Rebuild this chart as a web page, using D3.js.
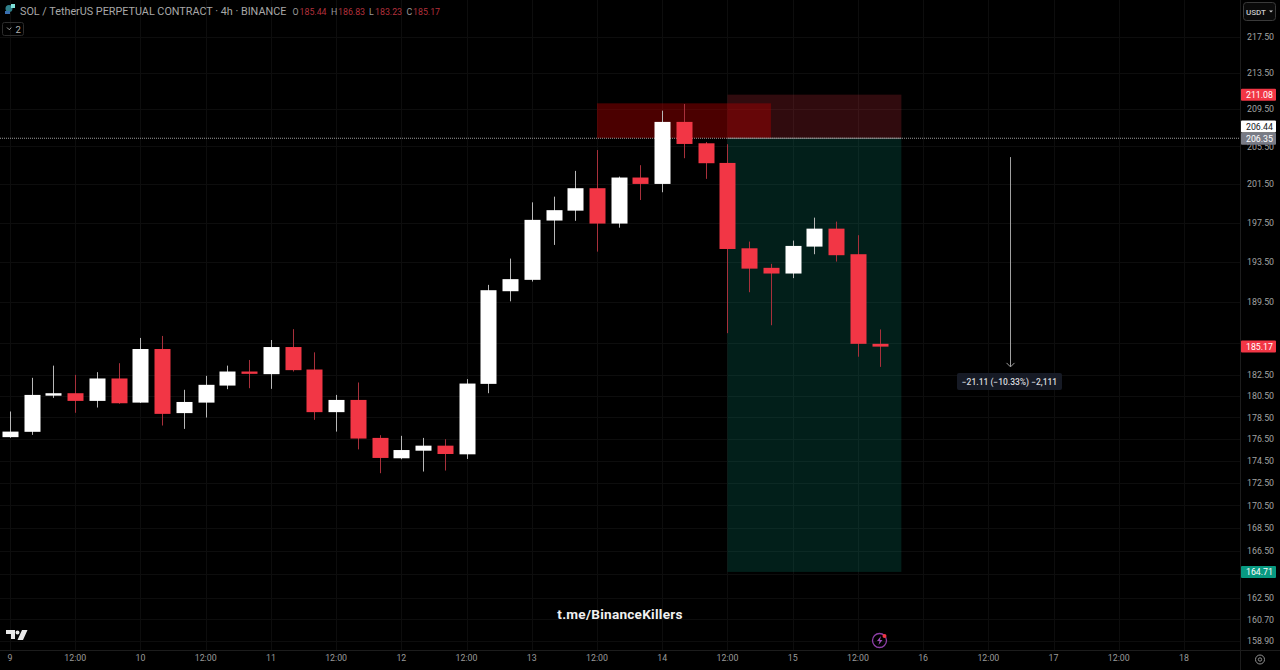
<!DOCTYPE html>
<html><head><meta charset="utf-8">
<script src="https://cdn.jsdelivr.net/npm/d3@7"></script>
<style>
html,body{margin:0;padding:0;background:#000;overflow:hidden}
svg{display:block}
text{font-family:Roboto,"Liberation Sans",sans-serif}
</style></head><body>
<svg id="c" width="1280" height="670"></svg>
<script>
const opens  =[176.66,177.15,180.51,180.74,180.02,182.13,179.86,184.94,178.88,179.86,181.46,182.79,182.54,185.13,182.98,178.97,180.11,176.59,174.73,175.42,175.88,175.09,181.62,190.58,191.71,197.71,198.73,201.06,197.40,202.18,201.51,208.11,205.81,203.72,194.88,192.91,192.34,195.05,196.88,194.28,185.44];
const highs  =[179.03,182.19,183.35,182.47,182.73,183.58,186.01,186.20,181.06,182.38,183.35,183.89,185.81,186.86,184.62,180.58,181.75,176.84,176.78,176.59,176.47,182.07,191.21,193.84,199.59,200.18,202.88,205.09,202.28,203.48,209.33,210.06,205.95,205.71,195.56,193.31,195.66,198.01,197.60,196.21,186.83];
const lows   =[176.60,176.87,180.30,178.91,179.40,179.75,179.83,177.73,177.42,178.47,181.12,181.21,181.15,182.79,178.26,177.17,175.54,173.38,174.64,173.53,173.62,174.67,180.74,189.58,191.54,195.22,197.68,194.54,196.98,199.83,200.64,204.22,202.04,186.47,190.48,187.24,191.88,194.28,193.54,184.20,183.23];
const closes =[177.17,180.58,180.74,180.02,182.13,179.80,184.94,178.81,179.92,181.53,182.79,182.57,185.13,182.92,178.97,180.11,176.53,174.76,175.48,175.88,175.12,181.65,190.68,191.78,197.78,198.78,201.06,197.40,202.18,201.51,208.11,205.74,203.69,194.81,192.83,192.34,195.12,196.88,194.18,185.44,185.17];
const priceTicks=[217.5,213.5,209.5,205.5,201.5,197.5,193.5,189.5,182.5,180.5,178.5,176.5,174.5,172.5,170.5,168.5,166.5,162.5,160.7,158.9];
const gridOnlyPrices=[185.5,164.5];
const timeIdx=[0,3,6,9,12,15,18,21,24,27,30,33,36,39,42,45,48,51,54];
const timeLabels=["9","12:00","10","12:00","11","12:00","12","12:00","13","12:00","14","12:00","15","12:00","16","12:00","17","12:00","18"];
const zoneBar=[27,35], zonePrice=[206.35,210.13];
const posBar=[33,41], entry=206.35, stop=211.08, target=164.71, preLine=206.35;
const measureBar=46, measurePrice=[204.34,183.23];
const priceLabels=[[211.08,"#f23645","#fff",0],[206.44,"#ffffff","#131722",-11],[206.35,"#787b86","#fff",0.5],[185.17,"#f23645","#fff",0],[164.71,"#089981","#fff",0]];

const W=1280,H=670,axisX=1240,axisY=650;
const svg=d3.select("#c");
const x=d3.scaleLinear().domain([0,54]).range([10,1184]);
const y=d3.scaleLog().domain([158.9,217.5]).range([641,37]);
svg.append("rect").attr("width",W).attr("height",H).attr("fill","#000");

const grid=svg.append("g").attr("stroke","#0d0d0d").attr("stroke-width",1);
grid.selectAll(".gx").data(timeIdx).join("line").attr("class","gx").attr("x1",d=>Math.round(x(d))+.5).attr("x2",d=>Math.round(x(d))+.5).attr("y1",0).attr("y2",axisY);
grid.selectAll(".gy").data(priceTicks.concat(gridOnlyPrices)).join("line").attr("class","gy").attr("y1",d=>Math.round(y(d))+.5).attr("y2",d=>Math.round(y(d))+.5).attr("x1",0).attr("x2",axisX);

// position and zone drawings
svg.append("rect").attr("x",x(posBar[0])).attr("width",x(posBar[1])-x(posBar[0])).attr("y",y(stop)).attr("height",y(entry)-y(stop)).attr("fill","#f23645").attr("fill-opacity",.2);
svg.append("rect").attr("x",x(posBar[0])).attr("width",x(posBar[1])-x(posBar[0])).attr("y",y(entry)).attr("height",y(target)-y(entry)).attr("fill","#089981").attr("fill-opacity",.2);
svg.append("rect").attr("x",x(zoneBar[0])).attr("width",x(zoneBar[1])-x(zoneBar[0])).attr("y",y(zonePrice[1])).attr("height",y(zonePrice[0])-y(zonePrice[1])).attr("fill","#b30000").attr("fill-opacity",.42);

svg.append("line").attr("x1",0).attr("x2",axisX).attr("y1",y(preLine)).attr("y2",y(preLine)).attr("stroke","#9a9a9a").attr("stroke-width",1).attr("stroke-dasharray","1 1");
svg.append("line").attr("x1",x(posBar[0])).attr("x2",x(posBar[1])).attr("y1",y(entry)).attr("y2",y(entry)).attr("stroke","#8a8a8a").attr("stroke-width",1);

// candles
const idx=d3.range(opens.length);
const col=i=>closes[i]>=opens[i]?"#ffffff":"#f23645";
const wick=i=>closes[i]>=opens[i]?"#b8b8b8":"#a8303b";
const bw=16;
svg.append("g").selectAll("line").data(idx).join("line")
 .attr("x1",i=>Math.round(x(i))+.5).attr("x2",i=>Math.round(x(i))+.5)
 .attr("y1",i=>y(highs[i])).attr("y2",i=>y(lows[i])).attr("stroke",wick).attr("stroke-width",1);
svg.append("g").selectAll("rect").data(idx).join("rect")
 .attr("x",i=>Math.round(x(i))+.5-bw/2).attr("width",bw)
 .attr("y",i=>y(Math.max(opens[i],closes[i])))
 .attr("height",i=>Math.max(1.5,Math.abs(y(opens[i])-y(closes[i]))))
 .attr("fill",col);

// measure arrow
const mx=Math.round(x(measureBar))+.5;
svg.append("line").attr("x1",mx).attr("x2",mx).attr("y1",y(measurePrice[0])).attr("y2",y(measurePrice[1])).attr("stroke","#a0a0a0");
svg.append("path").attr("d",`M${mx-4},${y(measurePrice[1])-4}L${mx},${y(measurePrice[1])}L${mx+4},${y(measurePrice[1])-4}`).attr("fill","none").attr("stroke","#a0a0a0");
svg.append("rect").attr("x",957).attr("y",373).attr("width",105).attr("height",17).attr("rx",2).attr("fill","#161a25");
svg.append("text").attr("x",1009.5).attr("y",385).attr("text-anchor","middle").attr("font-size",8.5).attr("font-weight",500).attr("fill","#d6d8de").text("\u221221.11 (\u221210.33%) \u22122,111");

// axes
svg.append("line").attr("x1",axisX+.5).attr("x2",axisX+.5).attr("y1",0).attr("y2",H).attr("stroke","#1c1c1c");
svg.append("line").attr("x1",0).attr("x2",W).attr("y1",axisY+.5).attr("y2",axisY+.5).attr("stroke","#1c1c1c");
const yAxis=d3.axisRight(y).tickValues(priceTicks).tickSize(0).tickPadding(0).tickFormat(d3.format(".2f"));
const ya=svg.append("g").attr("transform",`translate(1247,0)`).call(yAxis);
ya.select(".domain").remove();
ya.selectAll("text").attr("font-size",8.8).attr("fill","#a3a3a3").attr("font-family","Roboto,sans-serif");
const xAxis=d3.axisBottom(x).tickValues(timeIdx).tickSize(0).tickPadding(0).tickFormat((d,i)=>timeLabels[i]);
const xa=svg.append("g").attr("transform",`translate(-0.5,654.5)`).call(xAxis);
xa.select(".domain").remove();
xa.selectAll("text").attr("font-size",8.8).attr("fill","#9a9a9a").attr("font-family","Roboto,sans-serif");

// price labels
const pl=svg.append("g").selectAll("g").data(priceLabels).join("g").attr("transform",d=>`translate(1241,${y(d[0])+d[3]})`);
pl.append("rect").attr("x",0).attr("y",-6).attr("width",35).attr("height",12).attr("rx",1).attr("fill",d=>d[1]);
pl.append("text").attr("x",18.5).attr("y",3.2).attr("text-anchor","middle").attr("font-size",8.8).attr("fill",d=>d[2]).text(d=>d[0].toFixed(2));

// USDT button
svg.append("rect").attr("x",1243.5).attr("y",2.5).attr("width",32).attr("height",18).attr("rx",3).attr("fill","#0a0a0a").attr("stroke","#3a3a3a");
svg.append("text").attr("x",1246).attr("y",14.5).attr("font-size",8).attr("font-weight",500).attr("fill","#c8c8c8").text("USDT");
svg.append("path").attr("d","M1269,10.5h4l-2,2z").attr("fill","#c8c8c8");

// header
svg.append("circle").attr("cx",9).attr("cy",8.5).attr("r",3.5).attr("fill","#2f7f8a");
svg.append("rect").attr("x",5).attr("y",11).attr("width",5).attr("height",3).attr("fill","#3a6fb0");
svg.append("rect").attr("x",11).attr("y",4).attr("width",4).attr("height",4).attr("fill","#7fe0d8");
svg.append("text").attr("x",20).attr("y",15).attr("font-size",10.8).attr("fill","#a8a8a8").text("SOL / TetherUS PERPETUAL CONTRACT \u00b7 4h \u00b7 BINANCE");
const ohlc=[["O",292.5,"185.44",299.5],["H",331,"186.83",338],["L",369,"183.23",375],["C",406.5,"185.17",413]];
ohlc.forEach(o=>{
 svg.append("text").attr("x",o[1]).attr("y",14.5).attr("font-size",8.8).attr("fill","#9a9a9a").text(o[0]);
 svg.append("text").attr("x",o[3]).attr("y",14.5).attr("font-size",8.8).attr("fill","#b3303c").text(o[2]);
});
svg.append("rect").attr("x",2.5).attr("y",22.5).attr("width",21).attr("height",13).attr("rx",2).attr("fill","none").attr("stroke","#2c2c2c");
svg.append("path").attr("d","M7,27.5l2.2,2.2l2.2,-2.2").attr("fill","none").attr("stroke","#a0a0a0");
svg.append("text").attr("x",15.5).attr("y",32.5).attr("font-size",9.5).attr("fill","#b0b0b0").text("2");

// watermark
svg.append("text").attr("x",620).attr("y",618.5).attr("text-anchor","middle").attr("font-size",13.6).attr("font-weight",700).attr("fill","#f0f0f0").attr("letter-spacing",.25).text("t.me/BinanceKillers");

// logo
svg.append("path").attr("d","M6,630h9v9h-4v-5h-5zM22,630h5.5l-4.5,10h-5.5zM15.5,632.5a2,2 0 1 0 4,0a2,2 0 1 0 -4,0").attr("fill","#e8e8e8");

// bolt
svg.append("circle").attr("cx",879.5).attr("cy",640.5).attr("r",7).attr("fill","none").attr("stroke","#8e3fa8").attr("stroke-width",1.3);
svg.append("path").attr("d","M881,636l-4,5h2.5l-1,4l4,-5h-2.5z").attr("fill","#9c4fb8");
svg.append("circle").attr("cx",884.5).attr("cy",636).attr("r",2).attr("fill","#f23645");

// settings
svg.append("circle").attr("cx",1260).attr("cy",659.5).attr("r",4.5).attr("fill","none").attr("stroke","#909090");
svg.append("circle").attr("cx",1260).attr("cy",659.5).attr("r",1.7).attr("fill","none").attr("stroke","#909090");
</script>
</body></html>
